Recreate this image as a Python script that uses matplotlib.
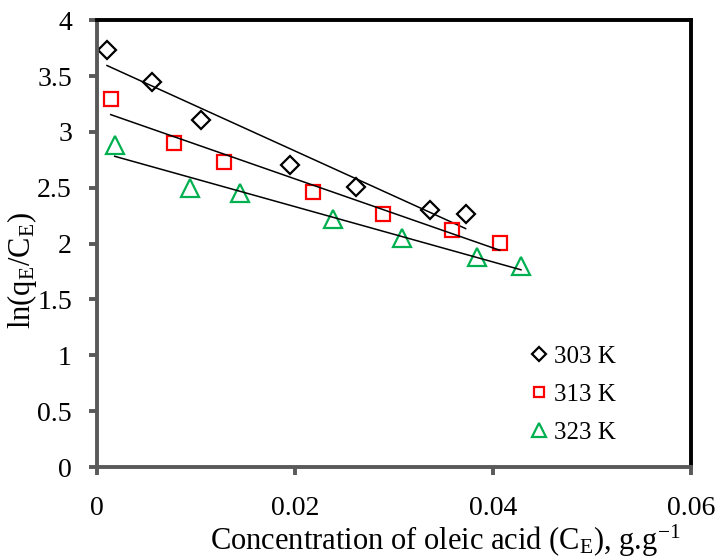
import numpy as np
import matplotlib
matplotlib.use("Agg")
import matplotlib.pyplot as plt

plt.rcParams['font.family'] = ['Liberation Serif', 'DejaVu Serif']
plt.rcParams['mathtext.fontset'] = 'custom'
plt.rcParams['mathtext.rm'] = 'Liberation Serif'
plt.rcParams['mathtext.it'] = 'Liberation Serif:italic'

# data
x_303 = [0.00101, 0.00557, 0.01052, 0.01953, 0.02621, 0.03369, 0.03724]
y_303 = [3.73, 3.45, 3.105, 2.70, 2.505, 2.30, 2.264]
x_313 = [0.00139, 0.00779, 0.01282, 0.02186, 0.02887, 0.03585, 0.04068]
y_313 = [3.29, 2.897, 2.732, 2.464, 2.264, 2.121, 2.002]
x_323 = [0.00179, 0.00944, 0.01444, 0.02388, 0.03086, 0.03838, 0.04283]
y_323 = [2.881, 2.494, 2.455, 2.217, 2.052, 1.882, 1.799]

series = [
    ("303 K", x_303, y_303, 'D', 'black', 9.5),
    ("313 K", x_313, y_313, 's', 'red', 10),
    ("323 K", x_323, y_323, '^', '#00b050', 13),
]

fig = plt.figure(figsize=(7.22, 5.6), dpi=100)
ax = fig.add_axes([0.1343, 0.166, 0.8227, 0.798])

for label, xs, ys, mk, col, ms in series:
    xs = np.array(xs); ys = np.array(ys)
    ax.plot(xs, ys, linestyle='none', marker=mk, markersize=ms, markerfacecolor='none',
            markeredgecolor=col, markeredgewidth=1.6, label=label)
    # linear trend line over the data range
    k, b = np.polyfit(xs, ys, 1)
    xl = np.array([xs[0], xs[-1]])
    ax.plot(xl, k * xl + b, color='black', linewidth=1.1)

ax.set_xlim(0, 0.06)
ax.set_ylim(0, 4)
ax.set_xticks([0, 0.02, 0.04, 0.06])
ax.set_xticklabels(['0', '0.02', '0.04', '0.06'])
ax.set_yticks(np.arange(0, 4.01, 0.5))
ax.set_yticklabels(['0', '0.5', '1', '1.5', '2', '2.5', '3', '3.5', '4'])
ax.tick_params(labelsize=20, direction='out', length=6, width=2.8, color='#595959')
ax.tick_params(axis='x', pad=15)
ax.tick_params(axis='y', pad=12)

for s in ['left', 'bottom']:
    ax.spines[s].set_color('#595959')
    ax.spines[s].set_linewidth(2.8)
for s in ['top', 'right']:
    ax.spines[s].set_color('black')
    ax.spines[s].set_linewidth(2.8)

ax.set_xlabel('Concentration of oleic acid (C$_\\mathrm{E}$), g.g$^{-1}$', fontsize=22, labelpad=0)
ax.xaxis.set_label_coords(0.586, -0.125)
ax.set_ylabel('ln(q$_\\mathrm{E}$/C$_\\mathrm{E}$)', fontsize=22)
ax.yaxis.set_label_coords(-0.097, 0.44)

ax.legend(loc='upper left', bbox_to_anchor=(0.715, 0.295), frameon=False, fontsize=18,
          markerscale=0.75, handlelength=0.6, handletextpad=0.3, labelspacing=0.62,
          borderaxespad=0)

fig.savefig('out.png', dpi=100)
